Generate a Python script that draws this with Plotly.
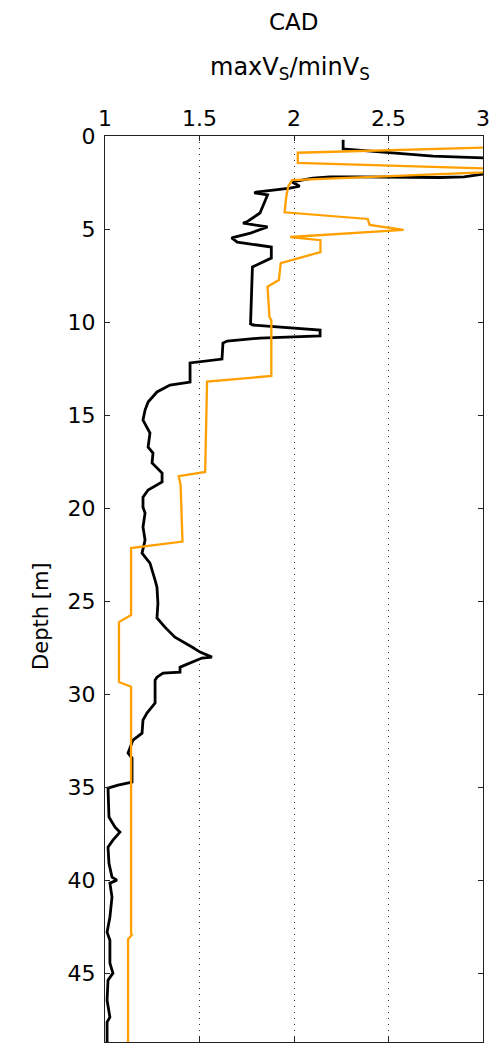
import plotly.graph_objects as go

# CAD ratio profile: orange series (x value, depth m)
orange_x = [3.10, 2.50, 2.02, 2.02, 3.05, 3.00, 1.99, 1.97, 1.96, 1.95, 2.13, 2.25, 2.39, 2.40, 2.58,
            1.98, 2.14, 2.14, 1.93, 1.92, 1.86, 1.87, 1.88, 1.88, 1.54, 1.53, 1.39, 1.40, 1.41,
            1.138, 1.138, 1.074, 1.074, 1.138, 1.138, 1.142, 1.122, 1.122]
orange_depth = [0.60, 0.75, 0.90, 1.45, 1.75, 1.95, 2.37, 2.70, 3.20, 4.10, 4.25, 4.35, 4.46, 4.78, 5.05,
                5.43, 5.60, 6.24, 6.83, 7.74, 8.10, 9.73, 9.90, 12.90, 13.20, 18.06, 18.28, 18.76, 21.80,
                22.15, 25.75, 26.13, 29.35, 29.60, 42.85, 42.95, 43.17, 49.0]

# black series (x value, depth m)
black_x = [2.26, 2.26, 2.29, 2.52, 2.735, 3.00, 3.20, 3.20, 3.00, 2.90, 2.77, 2.33, 2.19, 2.10,
           1.99, 2.03, 1.98, 1.80, 1.79, 1.86, 1.82, 1.75, 1.73, 1.86, 1.77, 1.67, 1.70, 1.88,
           1.88, 1.78, 1.77, 1.783, 1.995, 2.138, 2.138, 1.82, 1.646, 1.624, 1.619, 1.487, 1.45,
           1.45, 1.344, 1.275, 1.228, 1.212, 1.201, 1.238, 1.228, 1.254, 1.249, 1.302, 1.302, 1.228,
           1.201, 1.201, 1.212, 1.201, 1.212, 1.196, 1.238, 1.265, 1.275, 1.280, 1.275, 1.317,
           1.370, 1.460, 1.503, 1.566, 1.513, 1.423, 1.397, 1.397, 1.307, 1.275, 1.265, 1.265,
           1.222, 1.201, 1.196, 1.148, 1.132, 1.122, 1.143, 1.143, 1.069, 1.016, 1.021, 1.053,
           1.079, 1.042, 1.016, 1.021, 1.037, 1.063, 1.026, 1.037, 1.026, 1.011, 1.026, 1.026,
           1.042, 1.016, 1.011, 1.026, 1.011, 1.011]
black_depth = [0.20, 0.70, 0.72, 0.91, 1.08, 1.18, 1.40, 1.90, 2.05, 2.20, 2.23, 2.20, 2.20, 2.26,
               2.47, 2.70, 2.80, 3.01, 3.06, 3.17, 4.14, 4.62, 4.68, 4.89, 5.22, 5.48, 5.70, 5.97,
               6.56, 7.04, 10.10, 10.16, 10.32, 10.43, 10.75, 10.86, 11.02, 11.13, 11.99, 12.15, 12.20,
               13.23, 13.39, 13.76, 14.30, 14.73, 15.27, 15.97, 16.72, 17.04, 17.58, 18.12, 18.60, 19.03,
               19.41, 19.95, 20.27, 21.02, 21.72, 22.42, 22.96, 23.87, 24.25, 25.11, 25.91, 26.40,
               26.94, 27.47, 27.74, 28.01, 28.06, 28.44, 28.55, 28.82, 28.87, 29.09, 29.25, 30.48,
               31.02, 31.40, 32.10, 32.47, 32.85, 33.17, 33.44, 34.73, 34.89, 35.05, 36.61, 37.15,
               37.42, 37.85, 38.23, 39.09, 39.84, 40.00, 40.16, 40.91, 41.99, 42.80, 43.23, 44.46,
               45.00, 45.38, 46.45, 47.37, 47.63, 49.0]

x_ticks = [1, 1.5, 2, 2.5, 3]
y_ticks = [0, 5, 10, 15, 20, 25, 30, 35, 40, 45]

FONT = "DejaVu Sans, Liberation Sans, Arial, sans-serif"

fig = go.Figure()
fig.add_trace(go.Scatter(x=black_x, y=black_depth, mode="lines",
                         line=dict(color="black", width=2.8), showlegend=False))
fig.add_trace(go.Scatter(x=orange_x, y=orange_depth, mode="lines",
                         line=dict(color="rgb(255,160,0)", width=2.3), showlegend=False))

fig.update_layout(
    width=495, height=1044,
    margin=dict(l=105, r=12, t=136, b=2),
    paper_bgcolor="white", plot_bgcolor="white",
    font=dict(family=FONT, size=22, color="black"),
    xaxis=dict(range=[1, 3], side="top", tickvals=x_ticks,
               ticktext=[str(v) for v in x_ticks],
               showline=True, linecolor="#222", linewidth=1, mirror="ticks",
               ticks="inside", ticklen=5, tickcolor="#222",
               showgrid=True, gridcolor="#333", griddash="1px,5px", gridwidth=1.3,
               zeroline=False, tickfont=dict(size=22)),
    yaxis=dict(range=[48.7, 0], tickvals=y_ticks,
               showline=True, linecolor="#222", linewidth=1, mirror="ticks",
               ticks="inside", ticklen=5, tickcolor="#222", ticklabelstandoff=4,
               showgrid=False, zeroline=False, tickfont=dict(size=22)),
    annotations=[
        dict(text="CAD", x=0.5, y=1.1258, xref="paper", yref="paper",
             showarrow=False, font=dict(size=23), xanchor="center", yanchor="middle"),
        dict(text="maxV<sub>S</sub>/minV<sub>S</sub>", x=0.49, y=1.074, xref="paper", yref="paper",
             showarrow=False, font=dict(size=24), xanchor="center", yanchor="middle"),
        dict(text="Depth [m]", x=-0.17, y=0.47, xref="paper", yref="paper",
             showarrow=False, font=dict(size=21), textangle=-90,
             xanchor="center", yanchor="middle"),
    ],
)

fig.write_html("out.html")
